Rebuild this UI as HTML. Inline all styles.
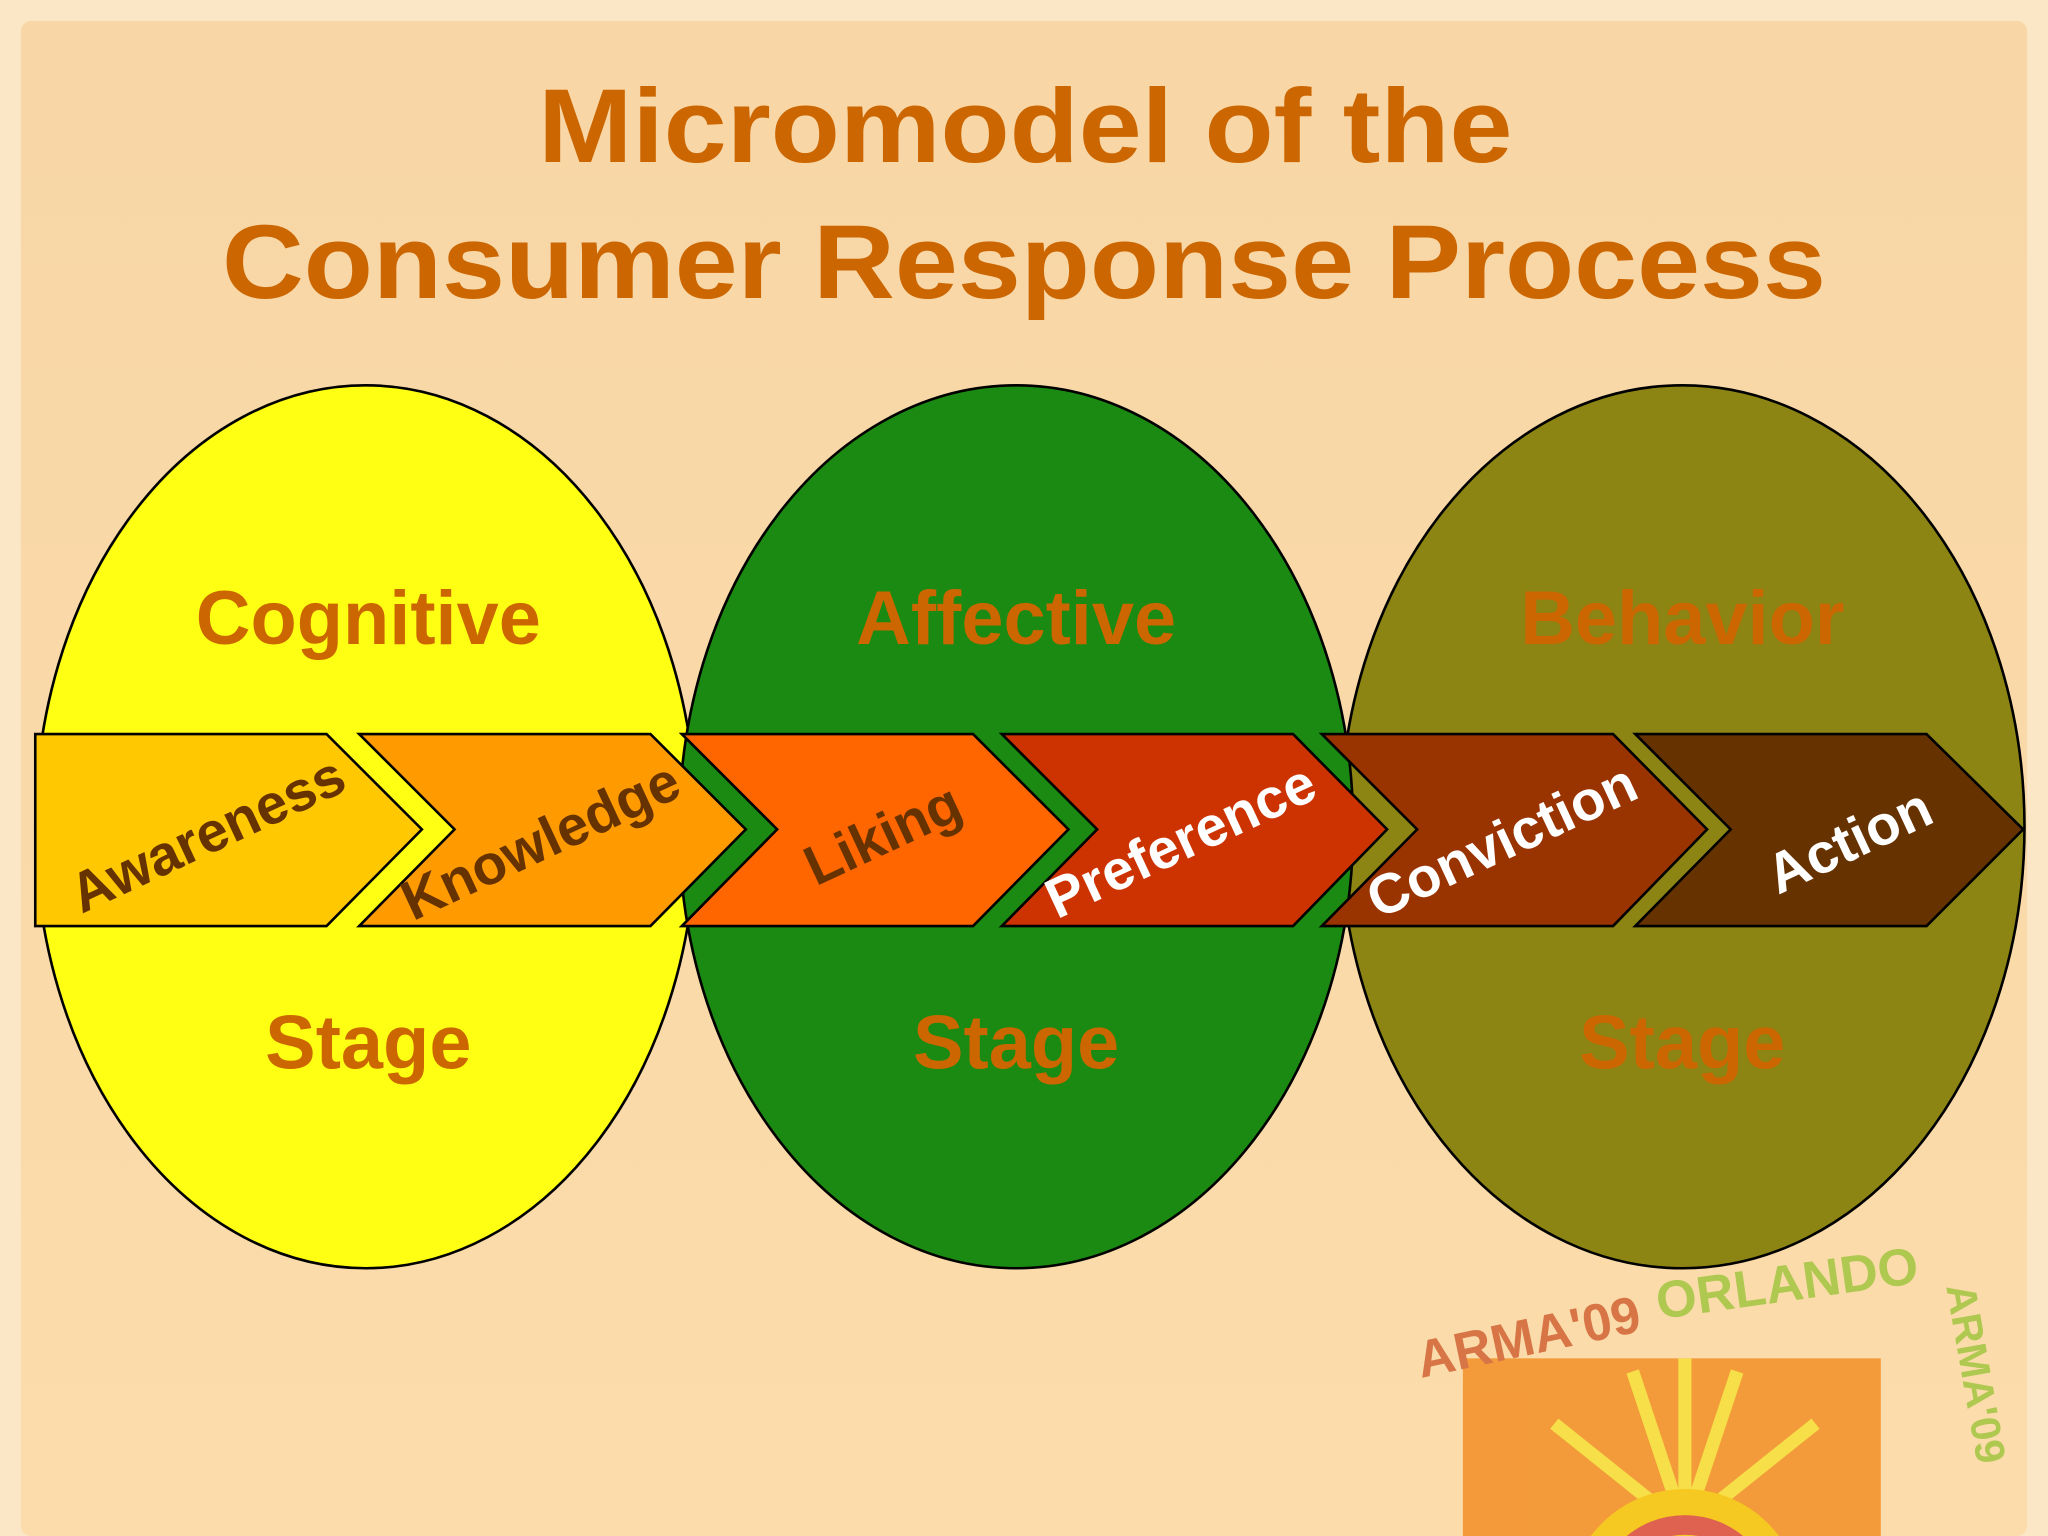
<!DOCTYPE html>
<html><head><style>html,body{margin:0;padding:0;background:#fbe6c6;overflow:hidden;width:2048px;height:1536px}svg{display:block}</style></head>
<body>
<svg width="2048" height="1536" viewBox="0 0 1568 1176" xmlns="http://www.w3.org/2000/svg" font-family="Liberation Sans, sans-serif" font-weight="bold">
<defs>
<linearGradient id="bg" x1="0" y1="0" x2="0" y2="1"><stop offset="0" stop-color="#f8d6a6"/><stop offset="1" stop-color="#fcdcab"/></linearGradient>
<clipPath id="c"><rect width="1568" height="1176"/></clipPath>
</defs>
<g clip-path="url(#c)">
<rect width="1568" height="1176" fill="#fbe6c6"/>
<rect x="16" y="16" width="1536" height="1160" rx="8" fill="url(#bg)"/>
<text x="412" y="124" font-size="80" fill="#cc6600" textLength="746" lengthAdjust="spacingAndGlyphs">Micromodel of the</text>
<text x="170" y="228" font-size="80" fill="#cc6600" textLength="1228" lengthAdjust="spacingAndGlyphs">Consumer Response Process</text>

<!-- logo -->
<g opacity="0.8">
<rect x="1120" y="1040" width="320" height="150" fill="#f28a1e"/>
<g stroke="#f5e030" stroke-width="10">
<line x1="1290" y1="1170" x2="1250" y2="1050"/><line x1="1290" y1="1170" x2="1330" y2="1050"/>
<line x1="1290" y1="1170" x2="1190" y2="1090"/><line x1="1290" y1="1170" x2="1390" y2="1090"/>
<line x1="1290" y1="1170" x2="1290" y2="1040"/>
</g>
<circle cx="1290" cy="1230" r="90" fill="#f5c400"/>
<circle cx="1290" cy="1230" r="70" fill="#d8433a"/>
<circle cx="1290" cy="1230" r="55" fill="#f5c400"/>
<text x="1088" y="1055" font-size="40" fill="#cf5c2e" transform="rotate(-12 1088 1055)">ARMA'09</text>
<text x="1270" y="1010" font-size="40" fill="#9dc43a" transform="rotate(-8 1270 1010)">ORLANDO</text>
<text x="1490" y="985" font-size="32" fill="#9dc43a" transform="rotate(80 1490 985)">ARMA'09</text>
</g>

<ellipse cx="280" cy="633" rx="253" ry="338" fill="#ffff14" stroke="#000" stroke-width="2"/>
<ellipse cx="1288" cy="633" rx="262" ry="338" fill="#8c8514" stroke="#000" stroke-width="2"/>
<ellipse cx="778" cy="633" rx="258" ry="338" fill="#1b8a12" stroke="#000" stroke-width="2"/>

<g font-size="58" fill="#cc6600" text-anchor="middle">
<text x="282" y="493">Cognitive</text>
<text x="282" y="818">Stage</text>
<text x="778" y="493">Affective</text>
<text x="778" y="818">Stage</text>
<text x="1288" y="493">Behavior</text>
<text x="1288" y="818">Stage</text>
</g>

<g stroke="#000" stroke-width="2">
<polygon points="27,562 250,562 323,635 250,709 27,709" fill="#ffc800"/>
<polygon points="275,562 498,562 571,635 498,709 275,709 348,635" fill="#ff9a00"/>
<polygon points="522,562 745,562 818,635 745,709 522,709 595,635" fill="#ff6600"/>
<polygon points="767,562 990,562 1062,635 990,709 767,709 840,635" fill="#cc3300"/>
<polygon points="1012,562 1235,562 1307,635 1235,709 1012,709 1085,635" fill="#993300"/>
<polygon points="1252,562 1475,562 1549,635 1475,709 1252,709 1325,635" fill="#663300"/>
</g>
<g font-size="43" text-anchor="middle">
<text x="165" y="652" fill="#663300" transform="rotate(-25 165 652)">Awareness</text>
<text x="420" y="657" fill="#663300" transform="rotate(-25 420 657)">Knowledge</text>
<text x="682" y="652" fill="#663300" transform="rotate(-25 682 652)">Liking</text>
<text x="910" y="657" fill="#ffffff" transform="rotate(-25 910 657)">Preference</text>
<text x="1156" y="657" fill="#ffffff" transform="rotate(-25 1156 657)">Conviction</text>
<text x="1422" y="657" fill="#ffffff" transform="rotate(-25 1422 657)">Action</text>
</g>
</g>
</svg>
</body></html>
